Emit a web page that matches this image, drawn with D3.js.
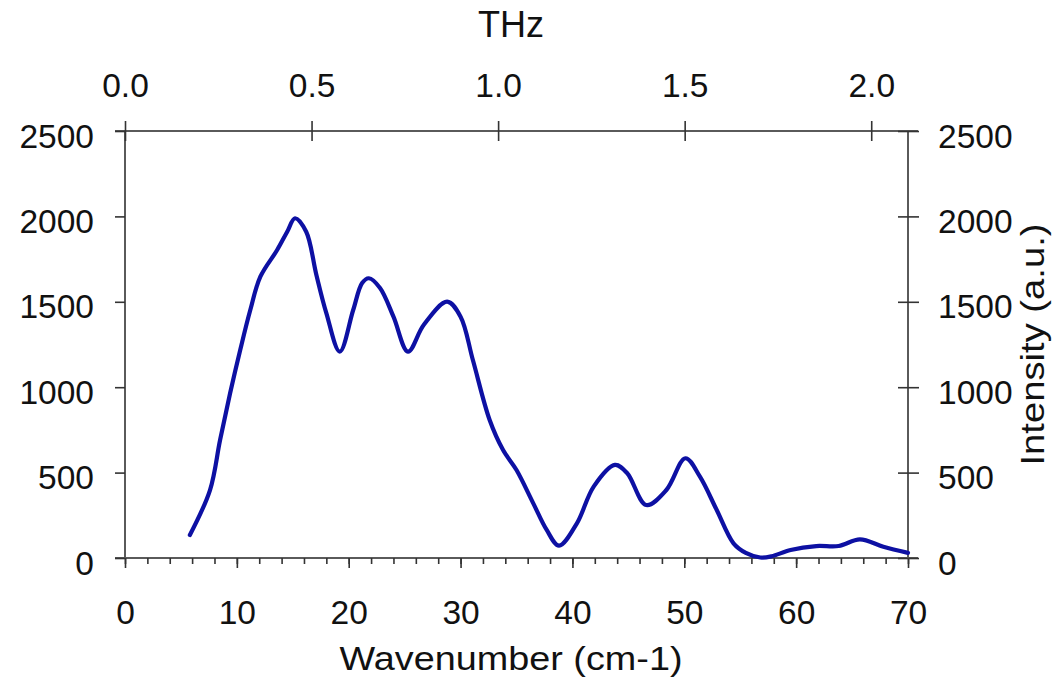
<!DOCTYPE html>
<html>
<head>
<meta charset="utf-8">
<script src="https://cdn.jsdelivr.net/npm/d3@7"></script>
<style>
  body { margin: 0; background: #fff; }
  svg { display: block; }
  text { font-family: "Liberation Sans", Arial, sans-serif; fill: #111; }
</style>
</head>
<body>
<svg id="chart" width="1064" height="683"></svg>
<script>
// Data
const wavenumber = [5.8, 7.6, 8.5, 9.4, 10.3, 11.2, 12.1, 13.6, 14.5, 15.2, 16.2, 17.1, 18.0, 19.2, 20.4, 21.2, 21.8, 22.8, 24.0, 25.3, 26.7, 28.8, 30.0, 31.1, 32.6, 33.8, 35.0, 36.5, 37.7, 38.8, 40.4, 41.9, 43.8, 44.9, 46.6, 48.4, 50.1, 51.4, 52.9, 54.4, 55.5, 56.8, 57.8, 59.5, 61.8, 63.8, 65.7, 67.8, 70.0];
const intensity  = [135, 398, 691, 966, 1218, 1452, 1647, 1803, 1910, 1989, 1910, 1660, 1434, 1208, 1452, 1610, 1638, 1581, 1413, 1208, 1364, 1501, 1413, 1159, 808, 632, 515, 320, 164, 72, 203, 418, 545, 496, 310, 398, 584, 476, 281, 86, 30, 3, 10, 47, 70, 70, 109, 66, 30];
const xMajorTicks = [0, 10, 20, 30, 40, 50, 60, 70];
const yTicks = [0, 500, 1000, 1500, 2000, 2500];
const thzTicks = [0.0, 0.5, 1.0, 1.5, 2.0];
const thzLabels = ["0.0", "0.5", "1.0", "1.5", "2.0"];
const xTitle = "Wavenumber (cm-1)";
const yTitle = "Intensity (a.u.)";
const topTitle = "THz";
const CM_PER_THZ = 33.356;

const svg = d3.select("#chart");
const L = 125, R = 908, T = 131, B = 558;

const x = d3.scaleLinear().domain([0, 70]).range([L, R]);
const y = d3.scaleLinear().domain([0, 2500]).range([B, T]);
const thz = d3.scaleLinear().domain([0, 70 / CM_PER_THZ]).range([L, R]);

const axisColor = "#5a5a5a";
const FS = 33.5;

// Axis frame lines
svg.append("line").attr("x1", L - 10).attr("x2", R + 10).attr("y1", B).attr("y2", B)
  .attr("stroke", axisColor).attr("stroke-width", 2);
svg.append("line").attr("x1", L - 10).attr("x2", R + 10).attr("y1", T).attr("y2", T)
  .attr("stroke", axisColor).attr("stroke-width", 2);
svg.append("line").attr("x1", L).attr("x2", L).attr("y1", T).attr("y2", B)
  .attr("stroke", axisColor).attr("stroke-width", 2);
svg.append("line").attr("x1", R).attr("x2", R).attr("y1", T).attr("y2", B)
  .attr("stroke", axisColor).attr("stroke-width", 2);

function styleTicks(g) {
  g.select(".domain").remove();
  g.selectAll(".tick line").attr("stroke", "#333").attr("stroke-width", 1.6);
}
function styleText(sel) {
  sel.attr("font-size", FS).attr("fill", "#111")
    .style("font-family", "Liberation Sans, Arial, sans-serif");
}

// Bottom minor ticks
svg.append("g").attr("transform", `translate(0,${B})`)
  .call(d3.axisBottom(x).tickValues(d3.range(0, 71, 2)).tickSize(6).tickFormat(""))
  .call(styleTicks);
// Bottom major ticks + labels
svg.append("g").attr("transform", `translate(0,${B})`)
  .call(d3.axisBottom(x).tickValues(xMajorTicks).tickSize(10).tickFormat(d3.format("d")))
  .call(styleTicks)
  .call(g => g.selectAll(".tick text").attr("y", 65.5).attr("dy", null).call(styleText));

// Left axis
svg.append("g").attr("transform", `translate(${L},0)`)
  .call(d3.axisLeft(y).tickValues(yTicks).tickSize(10).tickFormat(d3.format("d")))
  .call(styleTicks)
  .call(g => g.selectAll(".tick text").attr("x", -31).attr("dy", 16).call(styleText));

// Right axis (ticks crossing)
svg.append("g").attr("transform", `translate(${R},0)`)
  .call(d3.axisRight(y).tickValues(yTicks).tickSize(10).tickFormat(d3.format("d")))
  .call(styleTicks)
  .call(g => g.selectAll(".tick line").attr("x1", -10).attr("x2", 11))
  .call(g => g.selectAll(".tick text").attr("x", 30).attr("dy", 16).call(styleText));

// Top THz axis (ticks crossing)
svg.append("g").attr("transform", `translate(0,${T})`)
  .call(d3.axisTop(thz).tickValues(thzTicks).tickSize(10).tickFormat((d, i) => thzLabels[i]))
  .call(styleTicks)
  .call(g => g.selectAll(".tick line").attr("y1", 10).attr("y2", -10))
  .call(g => g.selectAll(".tick text").attr("y", -34.5).attr("dy", null).call(styleText));

// Titles
svg.append("text").attr("x", 511).attr("y", 670).attr("text-anchor", "middle")
  .attr("font-size", 34).attr("textLength", 343).attr("lengthAdjust", "spacingAndGlyphs")
  .text(xTitle);
svg.append("text").attr("x", 511).attr("y", 37).attr("text-anchor", "middle")
  .attr("font-size", 36).text(topTitle);
svg.append("text")
  .attr("transform", `translate(1044,${(T + B) / 2}) rotate(-90)`)
  .attr("text-anchor", "middle").attr("font-size", 34)
  .attr("textLength", 242).attr("lengthAdjust", "spacingAndGlyphs")
  .text(yTitle);

// Curve
const pts = wavenumber.map((w, i) => [w, intensity[i]]);
const line = d3.line().x(d => x(d[0])).y(d => y(d[1])).curve(d3.curveCatmullRom.alpha(0.5));
svg.append("path").datum(pts).attr("d", line)
  .attr("fill", "none").attr("stroke", "#0d10a3").attr("stroke-width", 4.2)
  .attr("stroke-linejoin", "round").attr("stroke-linecap", "round");
</script>
</body>
</html>
